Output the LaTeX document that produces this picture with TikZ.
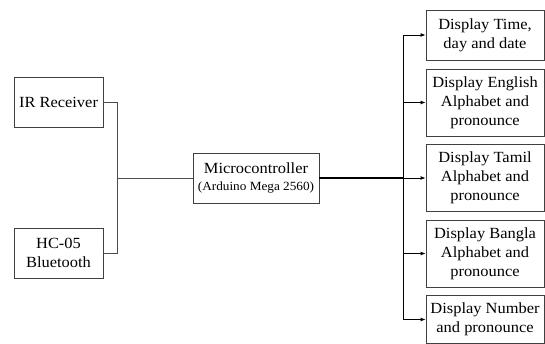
\documentclass[tikz,border=0pt]{standalone}
\usepackage{fontspec}
\setmainfont[FakeStretch=1.06]{Liberation Serif}
\usetikzlibrary{arrows.meta}

\begin{document}
\begin{tikzpicture}[x=1pt,y=-1pt,
  blockbox/.style={draw=black!75,line width=0.8pt,align=center,inner sep=1pt,
    font=\fontsize{15.5}{19}\selectfont},
  wire/.style={draw=black!70,line width=0.8pt},
  feed/.style={draw=black,line width=0.9pt,-{Latex[length=5pt,width=4pt]}}]
\useasboundingbox (0,0) rectangle (545,344);
\node[blockbox,minimum width=89pt,minimum height=50pt] (ir) at (58.5,102) {IR Receiver};
\node[blockbox,minimum width=89pt,minimum height=50pt] (bt) at (58.5,253) {HC-05\\Bluetooth};
\node[blockbox,minimum width=126pt,minimum height=50pt] (mcu) at (256,178)
  {Microcontroller\\[-2pt]{\fontsize{12.5}{15}\selectfont(Arduino Mega 2560)}};
\node[blockbox,minimum width=118pt,minimum height=50pt] (time) at (485,35) {Display Time,\\day and date};
\node[blockbox,minimum width=118pt,minimum height=67pt] (eng) at (485,102.5) {Display English\\Alphabet and\\pronounce};
\node[blockbox,minimum width=118pt,minimum height=67pt] (tam) at (485,178) {Display Tamil\\Alphabet and\\pronounce};
\node[blockbox,minimum width=118pt,minimum height=67pt] (ban) at (485,253.5) {Display Bangla\\Alphabet and\\pronounce};
\node[blockbox,minimum width=118pt,minimum height=48pt] (num) at (485,319.5) {Display Number\\and pronounce};
\coordinate (join) at (117,178);
\coordinate (split) at (403,178);
\draw[wire] (ir.east) -| (join);
\draw[wire] (bt.east) -| (join);
\draw[wire] (join) -- (mcu.west);
\draw[line width=1.5pt] (mcu.east) -- (split);
\draw[feed] (split) |- (time.west);
\draw[feed] (split) |- (eng.west);
\draw[feed] (split) -- (tam.west);
\draw[feed] (split) |- (ban.west);
\draw[feed] (split) |- (num.west);
\end{tikzpicture}
\end{document}
